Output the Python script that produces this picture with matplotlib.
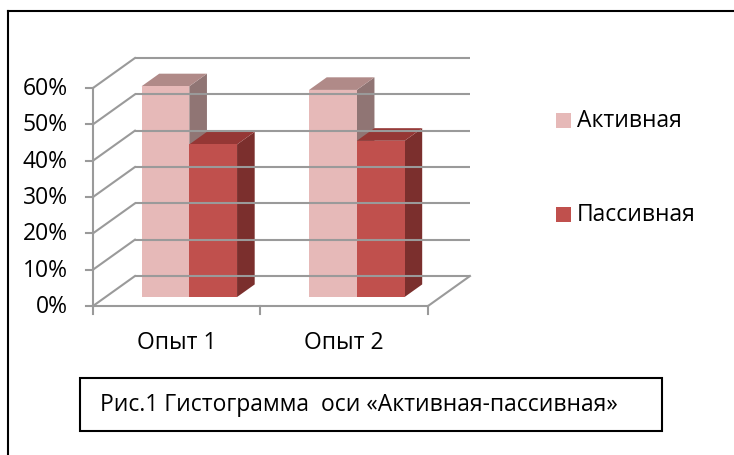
import matplotlib
matplotlib.use("Agg")
import matplotlib.pyplot as plt
from matplotlib.patches import Polygon, Rectangle
from matplotlib.lines import Line2D

# ---- data ----
categories = ["Опыт 1", "Опыт 2"]
series_names = ["Активная", "Пассивная"]
active = [58, 57]
passive = [42, 43]
y_ticks = [0, 10, 20, 30, 40, 50, 60]
y_tick_labels = ["0%", "10%", "20%", "30%", "40%", "50%", "60%"]
caption = "Рис.1 Гистограмма  оси «Активная-пассивная»"

# ---- styles ----
W, H = 734, 456
FONT = ["Open Sans", "DejaVu Sans"]
FS = 16.5
front_cols = ["#E6B9B8", "#C0504D"]
top_cols = ["#B08A88", "#953735"]
side_cols = ["#907574", "#7B2F2D"]
grid_col = "#9A9A9A"

# oblique projection (depth offsets in data units)
DX = 0.2507   # category units at full depth
DY = 8.26     # percent units at full depth
D0, D1 = 0.30, 0.72
BAR_W = 0.285

def proj(x, y, d):
    return (x + d * DX, y + d * DY)

fig = plt.figure(figsize=(W / 100, H / 100), dpi=100)
ax = fig.add_axes([0, 0, 1, 1])
ax.set_xlim(-0.555, 3.827)
ax.set_ylim(-41.0, 84.5)
ax.axis("off")

ncat = len(categories)
ymax = y_ticks[-1]

# walls / gridlines
for v, lab in zip(y_ticks, y_tick_labels):
    p0, p1 = proj(0, v, 1), proj(ncat, v, 1)
    ax.plot([p0[0], p1[0]], [p0[1], p1[1]], color=grid_col, lw=1.5, solid_capstyle="butt")
    q0, q1 = proj(0, v, 0), proj(0, v, 1)
    ax.plot([q0[0], q1[0]], [q0[1], q1[1]], color=grid_col, lw=1.5)
    ax.plot([-0.042, 0], [v, v], color=grid_col, lw=1.5)
    ax.text(-0.15, v, lab, ha="right", va="center",
            fontsize=FS, family=FONT, color="black")

# front axis line
ax.plot([0, 0], [0, ymax], color=grid_col, lw=1.5)
# floor front edge and right edge
f0, f1 = proj(0, 0, 0), proj(ncat, 0, 0)
ax.plot([f0[0], f1[0]], [f0[1], f1[1]], color=grid_col, lw=1.5)
r0, r1 = proj(ncat, 0, 0), proj(ncat, 0, 1)
ax.plot([r0[0], r1[0]], [r0[1], r1[1]], color=grid_col, lw=1.5)
# category ticks
for i in range(ncat + 1):
    ax.plot([i, i], [0, -2.2], color=grid_col, lw=1.5)
for i, c in enumerate(categories):
    ax.text(i + 0.5, -9.9, c, ha="center", va="center", fontsize=FS, family=FONT)

def bar(x0, x1, v, k):
    side = [proj(x1, 0, D0), proj(x1, 0, D1), proj(x1, v, D1), proj(x1, v, D0)]
    top = [proj(x0, v, D0), proj(x1, v, D0), proj(x1, v, D1), proj(x0, v, D1)]
    front = [proj(x0, 0, D0), proj(x1, 0, D0), proj(x1, v, D0), proj(x0, v, D0)]
    ax.add_patch(Polygon(side, closed=True, facecolor=side_cols[k], edgecolor="none"))
    ax.add_patch(Polygon(top, closed=True, facecolor=top_cols[k], edgecolor="none"))
    ax.add_patch(Polygon(front, closed=True, facecolor=front_cols[k], edgecolor="none"))

for i in range(ncat):
    c = i + 0.5
    bar(c - BAR_W, c, active[i], 0)
    bar(c, c + BAR_W, passive[i], 1)

# legend (figure coords)
def fx(px):
    return px / W
def fy(py):
    return 1 - py / H

leg_y = [121, 215]
for k, name in enumerate(series_names):
    fig.patches.append(Rectangle((fx(556), fy(leg_y[k] + 7.5)), 15 / W, 15 / H,
                                 transform=fig.transFigure, facecolor=front_cols[k],
                                 edgecolor="none"))
    fig.text(fx(577), fy(leg_y[k]), name, ha="left", va="center", fontsize=FS, family=FONT)

# caption box
fig.patches.append(Rectangle((fx(80), fy(432)), (662 - 80) / W, (432 - 379) / H,
                             transform=fig.transFigure, facecolor="none",
                             edgecolor="black", lw=1.5))
fig.text(fx(100), fy(405), caption, ha="left", va="center", fontsize=FS, family=FONT)

# outer frame (top and left)
fig.add_artist(Line2D([fx(8), 1], [fy(12), fy(12)], transform=fig.transFigure, color="black", lw=1.5))
fig.add_artist(Line2D([fx(8), fx(8)], [fy(12), 0], transform=fig.transFigure, color="black", lw=1.5))

fig.savefig("out.png", dpi=100)
